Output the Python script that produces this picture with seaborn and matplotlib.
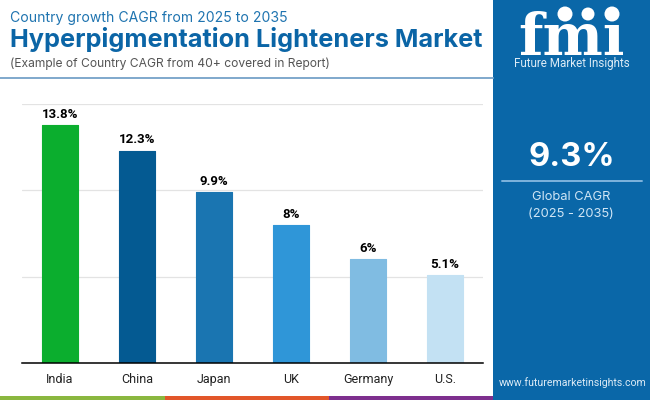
import pandas as pd
import matplotlib
matplotlib.use("Agg")
import matplotlib.pyplot as plt
from matplotlib.patches import Rectangle, Circle
import seaborn as sns

countries = ["India", "China", "Japan", "UK", "Germany", "U.S."]
cagr = [13.8, 12.3, 9.9, 8, 6, 5.1]
value_labels = ["13.8%", "12.3%", "9.9%", "8%", "6%", "5.1%"]
bar_colors = ["#0BAE2E", "#045A92", "#1A75B1", "#2F96D8", "#80BCE2", "#C3E1F3"]
y_ticks = [0, 5, 10, 15]

BLUE = "#0A67A8"
W, H = 650, 400

sns.set_style("white")
plt.rcParams["font.family"] = ["Roboto", "DejaVu Sans"]

df = pd.DataFrame({"country": countries, "cagr": cagr})

fig = plt.figure(figsize=(6.5, 4), dpi=100, facecolor="white")

# -----------------------------------------------------------------------
# decoration layer in pixel coordinates (y down)
# -----------------------------------------------------------------------
bg = fig.add_axes([0, 0, 1, 1])
bg.set_xlim(0, W)
bg.set_ylim(H, 0)
bg.axis("off")

bg.add_patch(Rectangle((493, 0), 157, 400, color=BLUE, lw=0))
bg.add_patch(Rectangle((0, 396), 165, 4, color="#8AB73F", lw=0))
bg.add_patch(Rectangle((165, 396), 164, 4, color="#E2562A", lw=0))
bg.add_patch(Rectangle((329, 396), 164, 4, color="#7E2F8E", lw=0))
bg.plot([0, 493], [77.5, 77.5], color="#7FA8CC", lw=1.4)

bg.text(10, 18, "Country growth CAGR from 2025 to 2035", color="#1F74B0",
        fontsize=10.1, family="Inter", va="center")
bg.text(10, 40, "Hyperpigmentation Lighteners Market", color="#0B65A6",
        fontsize=18.2, family="Inter", weight="bold", va="center")
bg.text(10, 64, "(Example of Country CAGR from 40+ covered in Report)", color="#555555",
        fontsize=8.7, family="Inter", va="center")

# logo, striped like the original mark
bg.text(571, 55, "fmı", color="white", fontsize=41, family="DejaVu Serif",
        weight="bold", ha="center", va="baseline")
for stripe_y in [28, 33, 38, 43, 48]:
    bg.plot([512, 632], [stripe_y, stripe_y], color=BLUE, lw=0.8)
for cx, cy, r in [(565, 14, 7.5), (588, 14, 6.5), (612, 14, 7.5)]:
    bg.add_patch(Circle((cx, cy), r + 1.5, color=BLUE, lw=0))
    bg.add_patch(Circle((cx, cy), r, color="white", lw=0))
bg.text(571.5, 64, "Future Market Insights", color="#DCEBF6", fontsize=8.4, ha="center", va="center")

# global CAGR box
bg.text(572, 158, "9.3%", color="white", fontsize=23.5, family="Inter", weight="bold",
        ha="center", va="center")
bg.plot([502, 642], [181, 181], color="#7FB4DD", lw=1.4)
bg.text(571, 197, "Global CAGR", color="#CFE5F5", fontsize=9.3, family="Inter", ha="center", va="center")
bg.text(571, 214, "(2025 - 2035)", color="#CFE5F5", fontsize=9.3, family="Inter", ha="center", va="center")
bg.text(572.5, 383, "www.futuremarketinsights.com", color="#DCEBF6", fontsize=7.6,
        ha="center", va="center")

# -----------------------------------------------------------------------
# bars
# -----------------------------------------------------------------------
left, right, top, bottom = 22, 483, 104, 363
ax = fig.add_axes([left / W, 1 - bottom / H, (right - left) / W, (bottom - top) / H])
ax.patch.set_alpha(0)

sns.barplot(data=df, x="country", y="cagr", hue="country", palette=bar_colors,
            order=countries, hue_order=countries, legend=False, width=0.47,
            saturation=1, ax=ax, zorder=3)

# slightly rounded corners on the bars
for bar, c in zip(ax.patches, bar_colors):
    bar.set_edgecolor(c)
    bar.set_linewidth(0.8)
    bar.set_joinstyle("round")

ax.set_xlim(-0.49, 5.49)
ax.set_ylim(0, 15)
ax.set_yticks(y_ticks)
ax.set_yticklabels([])
ax.set_xlabel("")
ax.set_ylabel("")
ax.grid(axis="y", color="#E3E3E3", lw=0.9, zorder=0)
ax.tick_params(axis="both", length=0)
ax.tick_params(axis="x", pad=7, labelsize=9, labelcolor="#222222")
sns.despine(ax=ax, left=True)
ax.spines["bottom"].set_color("black")
ax.spines["bottom"].set_linewidth(1.1)
ax.spines["bottom"].set_zorder(5)

for i, (v, lab) in enumerate(zip(cagr, value_labels)):
    ax.annotate(lab, (i, v), xytext=(0, 3), textcoords="offset points", ha="center", va="bottom",
                fontsize=9.5, weight="bold", color="black")

plt.savefig("out.png", dpi=100)
plt.close()
